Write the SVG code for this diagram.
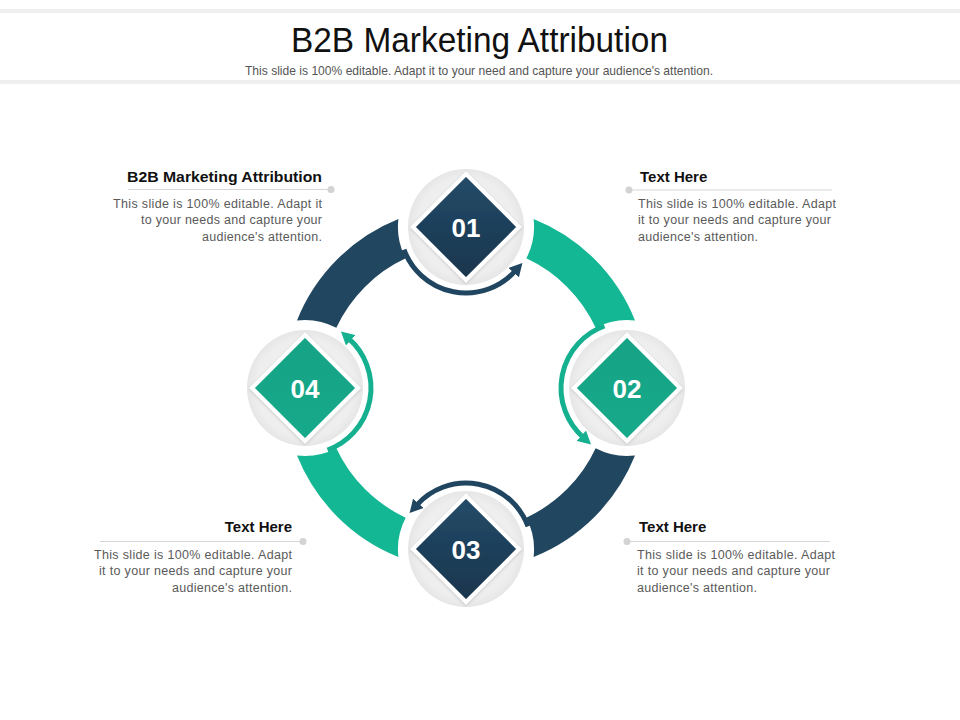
<svg xmlns="http://www.w3.org/2000/svg" width="960" height="720" viewBox="0 0 960 720">
  <style>
    .title{font-family:"Liberation Sans Narrow","Liberation Sans",Arial,sans-serif;font-size:35px;fill:#111}
    .sub{font-family:"Liberation Sans Narrow","Liberation Sans",Arial,sans-serif;font-size:13px;fill:#555}
    .head{font-family:"Liberation Sans",Arial,sans-serif;font-size:15px;font-weight:bold;fill:#111}
    .body{font-family:"Liberation Sans",Arial,sans-serif;font-size:12.5px;fill:#5a5a5a}
    .num{font-family:"Liberation Sans",Arial,sans-serif;font-size:26px;font-weight:bold;fill:#fff;text-anchor:middle}
    .rule{stroke:#d6d6d6;stroke-width:1}
    .dot{fill:#d3d3d3}
    .dark{fill:#21465f}
    .green{fill:#14b794}
    .arrD{fill:none;stroke:#1f4560;stroke-width:5}
    .arrG{fill:none;stroke:#14b08f;stroke-width:5}
    .disc{fill:url(#discG)}
    .dmD{fill:url(#dmDark);stroke:#fff;stroke-width:4;filter:url(#sh)}
    .dmG{fill:url(#dmGreen);stroke:#fff;stroke-width:4;filter:url(#sh)}
  </style>
  <defs>
    <radialGradient id="discG" cx="50%" cy="50%" r="50%">
      <stop offset="0" stop-color="#f3f3f3"/>
      <stop offset="0.85" stop-color="#eeeeee"/>
      <stop offset="1" stop-color="#e6e6e6"/>
    </radialGradient>
    <linearGradient id="dmDark" x1="0" y1="0" x2="0" y2="1">
      <stop offset="0" stop-color="#234b69"/>
      <stop offset="1" stop-color="#19354d"/>
    </linearGradient>
    <linearGradient id="dmGreen" x1="0" y1="0" x2="0" y2="1">
      <stop offset="0" stop-color="#13a285"/>
      <stop offset="1" stop-color="#12aa8a"/>
    </linearGradient>
    <filter id="sh" x="-20%" y="-20%" width="140%" height="140%">
      <feDropShadow dx="0" dy="1" stdDeviation="1.5" flood-color="#000" flood-opacity="0.18"/>
    </filter>
    <marker id="mD" markerUnits="userSpaceOnUse" viewBox="0 0 14 14" markerWidth="14" markerHeight="14" refX="2" refY="7" orient="auto">
      <path d="M0,0 L13,7 L0,14 Z" fill="#1f4560"/>
    </marker>
    <marker id="mG" markerUnits="userSpaceOnUse" viewBox="0 0 14 14" markerWidth="14" markerHeight="14" refX="2" refY="7" orient="auto">
      <path d="M0,0 L13,7 L0,14 Z" fill="#14b08f"/>
    </marker>
    <path id="band" d="M 533.59 219.01 A 182 182 0 0 1 634.99 320.41 A 68 68 0 0 0 595.66 327.68 A 143 143 0 0 0 526.32 258.34 A 68 68 0 0 0 533.59 219.01 Z"/>
    <path id="swing" d="M 403.98 249.57 A 66 66 0 0 0 515.05 271.16"/>
  </defs>

  <rect x="0" y="0" width="960" height="720" fill="#fff"/>
  <g id="header">
    <rect x="0" y="9" width="960" height="4" fill="#efefef"/>
    <rect x="0" y="80" width="960" height="4" fill="#efefef"/>
    <text class="title" x="291" y="52" textLength="377" lengthAdjust="spacingAndGlyphs">B2B Marketing Attribution</text>
    <text class="sub" x="245" y="75" textLength="468" lengthAdjust="spacingAndGlyphs">This slide is 100% editable. Adapt it to your need and capture your audience's attention.</text>
  </g>

  <g id="connectors">
    <use href="#band" class="green"/>
    <use href="#band" class="dark" transform="rotate(90 466 388)"/>
    <use href="#band" class="green" transform="rotate(180 466 388)"/>
    <use href="#band" class="dark" transform="rotate(270 466 388)"/>
    <use href="#swing" class="arrD" marker-end="url(#mD)"/>
    <use href="#swing" class="arrG" marker-end="url(#mG)" transform="rotate(90 466 388)"/>
    <use href="#swing" class="arrD" marker-end="url(#mD)" transform="rotate(180 466 388)"/>
    <use href="#swing" class="arrG" marker-end="url(#mG)" transform="rotate(270 466 388)"/>
  </g>

  <g id="node-01">
    <circle class="disc" cx="466" cy="227" r="58"/>
    <polygon class="dmD" points="466,174 519,227 466,280 413,227"/>
    <text class="num" x="466" y="237">01</text>
  </g>
  <g id="node-02">
    <circle class="disc" cx="627" cy="388" r="58"/>
    <polygon class="dmG" points="627,335 680,388 627,441 574,388"/>
    <text class="num" x="627" y="398">02</text>
  </g>
  <g id="node-03">
    <circle class="disc" cx="466" cy="549" r="58"/>
    <polygon class="dmD" points="466,496 519,549 466,602 413,549"/>
    <text class="num" x="466" y="559">03</text>
  </g>
  <g id="node-04">
    <circle class="disc" cx="305" cy="388" r="58"/>
    <polygon class="dmG" points="305,335 358,388 305,441 252,388"/>
    <text class="num" x="305" y="398">04</text>
  </g>

  <g id="callout-top-left">
    <text class="head" x="127" y="182" textLength="195" lengthAdjust="spacingAndGlyphs">B2B Marketing Attribution</text>
    <line class="rule" x1="128" y1="189.5" x2="331" y2="189.5"/>
    <circle class="dot" cx="331" cy="189.5" r="3.5"/>
    <text class="body" x="113" y="208" textLength="209" lengthAdjust="spacing">This slide is 100% editable. Adapt it</text>
    <text class="body" x="141" y="224" textLength="181" lengthAdjust="spacing">to your needs and capture your</text>
    <text class="body" x="202" y="241" textLength="120" lengthAdjust="spacing">audience's attention.</text>
  </g>

  <g id="callout-top-right">
    <text class="head" x="640" y="182">Text Here</text>
    <line class="rule" x1="629" y1="190" x2="832" y2="190"/>
    <circle class="dot" cx="629" cy="190" r="3.5"/>
    <text class="body" x="638" y="208" textLength="198" lengthAdjust="spacing">This slide is 100% editable. Adapt</text>
    <text class="body" x="638" y="224" textLength="193" lengthAdjust="spacing">it to your needs and capture your</text>
    <text class="body" x="638" y="241" textLength="120" lengthAdjust="spacing">audience's attention.</text>
  </g>

  <g id="callout-bottom-left">
    <text class="head" x="292" y="532" text-anchor="end">Text Here</text>
    <line class="rule" x1="100" y1="541.5" x2="303" y2="541.5"/>
    <circle class="dot" cx="303" cy="541.5" r="3.5"/>
    <text class="body" x="94" y="559" textLength="198" lengthAdjust="spacing">This slide is 100% editable. Adapt</text>
    <text class="body" x="99" y="575" textLength="193" lengthAdjust="spacing">it to your needs and capture your</text>
    <text class="body" x="172" y="592" textLength="120" lengthAdjust="spacing">audience's attention.</text>
  </g>

  <g id="callout-bottom-right">
    <text class="head" x="639" y="532">Text Here</text>
    <line class="rule" x1="627" y1="541.5" x2="830" y2="541.5"/>
    <circle class="dot" cx="627" cy="541.5" r="3.5"/>
    <text class="body" x="637" y="559" textLength="198" lengthAdjust="spacing">This slide is 100% editable. Adapt</text>
    <text class="body" x="637" y="575" textLength="193" lengthAdjust="spacing">it to your needs and capture your</text>
    <text class="body" x="637" y="592" textLength="120" lengthAdjust="spacing">audience's attention.</text>
  </g>
</svg>
